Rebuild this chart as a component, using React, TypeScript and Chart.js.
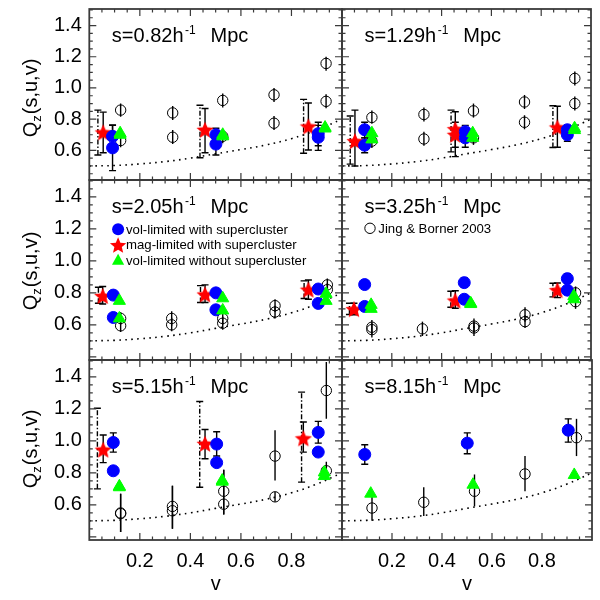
import React, { useEffect, useRef } from 'react';
import { Chart, registerables } from 'chart.js';

Chart.register(...registerables);

const FONT = '"Liberation Sans", Arial, Helvetica, sans-serif';
const FRAME = '#3a3a3a';

// ---- data ----
const xTickValues = [0.2, 0.4, 0.6, 0.8];
const yTickValues = [0.6, 0.8, 1.0, 1.2, 1.4];

// dotted reference curve (same in every panel)
const curveV = [0, 0.1, 0.2, 0.3, 0.4, 0.5, 0.6, 0.7, 0.8, 0.9, 1.0];
const curveQ = [0.5, 0.503, 0.513, 0.528, 0.55, 0.578, 0.605, 0.635, 0.675, 0.73, 0.8];

// blue: [v, Q, lo, hi]   green: [v, Q]   star: [v, Q, lo, hi]   starAlt: [v, lo, hi]   jing: [v, Q, lo, hi]
const blueS082 = [[0.092, 0.69, 0.64, 0.763], [0.092, 0.616, 0.47, 0.76], [0.501, 0.70, 0.66, 0.742], [0.501, 0.64, 0.57, 0.71], [0.906, 0.707, 0.63, 0.78], [0.906, 0.684, 0.60, 0.76]];
const greenS082 = [[0.122, 0.71], [0.122, 0.70], [0.528, 0.69], [0.528, 0.70], [0.933, 0.746], [0.933, 0.74]];
const starS082 = [[0.055, 0.715, 0.585, 0.845], [0.458, 0.732, 0.585, 0.868], [0.867, 0.753, 0.602, 0.904]];
const starAltS082 = [[0.034, 0.57, 0.858], [0.438, 0.553, 0.889], [0.848, 0.581, 0.927]];
const jingS082 = [[0.124, 0.858, 0.815, 0.90], [0.124, 0.663, 0.62, 0.705], [0.33, 0.84, 0.795, 0.885], [0.33, 0.684, 0.64, 0.73], [0.528, 0.92, 0.875, 0.965], [0.528, 0.69, 0.645, 0.735], [0.731, 0.956, 0.91, 1.0], [0.731, 0.774, 0.73, 0.82], [0.937, 1.157, 1.11, 1.2], [0.937, 0.914, 0.87, 0.96]];

const blueS129 = [[0.091, 0.732, 0.68, 0.78], [0.091, 0.633, 0.585, 0.68], [0.495, 0.72, 0.68, 0.76], [0.495, 0.68, 0.62, 0.72], [0.905, 0.732, 0.70, 0.76], [0.905, 0.70, 0.658, 0.74]];
const greenS129 = [[0.12, 0.71], [0.12, 0.67], [0.525, 0.71], [0.525, 0.68], [0.934, 0.742], [0.934, 0.73]];
const starS129 = [[0.052, 0.659, 0.50, 0.858], [0.455, 0.736, 0.56, 0.847], [0.455, 0.70, 0.62, 0.78], [0.865, 0.747, 0.62, 0.883]];
const starAltS129 = [[0.033, 0.512, 0.82], [0.438, 0.59, 0.858], [0.847, 0.618, 0.886]];
const jingS129 = [[0.12, 0.811, 0.77, 0.855], [0.12, 0.659, 0.615, 0.705], [0.329, 0.83, 0.785, 0.875], [0.329, 0.673, 0.63, 0.72], [0.528, 0.853, 0.81, 0.9], [0.528, 0.68, 0.635, 0.725], [0.733, 0.91, 0.865, 0.955], [0.733, 0.78, 0.735, 0.825], [0.935, 1.061, 1.015, 1.105], [0.935, 0.90, 0.855, 0.945]];

const blueS205 = [[0.095, 0.786, 0.77, 0.80], [0.095, 0.646, 0.63, 0.66], [0.501, 0.80, 0.785, 0.815], [0.501, 0.694, 0.68, 0.71], [0.906, 0.824, 0.81, 0.84], [0.906, 0.734, 0.72, 0.75]];
const greenS205 = [[0.119, 0.75], [0.119, 0.64], [0.528, 0.766], [0.528, 0.69], [0.937, 0.794], [0.937, 0.75]];
const starS205 = [[0.053, 0.78, 0.73, 0.84], [0.458, 0.79, 0.74, 0.85], [0.867, 0.82, 0.76, 0.88]];
const starAltS205 = [[0.036, 0.735, 0.835], [0.44, 0.74, 0.845], [0.85, 0.765, 0.875]];
const jingS205 = [[0.124, 0.64, 0.60, 0.68], [0.124, 0.594, 0.555, 0.635], [0.326, 0.64, 0.595, 0.685], [0.326, 0.60, 0.56, 0.645], [0.528, 0.64, 0.60, 0.68], [0.528, 0.61, 0.57, 0.65], [0.735, 0.72, 0.68, 0.76], [0.735, 0.68, 0.64, 0.72], [0.942, 0.85, 0.81, 0.89], [0.942, 0.82, 0.78, 0.86]];

const blueS325 = [[0.091, 0.852, 0.835, 0.87], [0.091, 0.715, 0.70, 0.73], [0.491, 0.864, 0.835, 0.893], [0.491, 0.76, 0.745, 0.775], [0.905, 0.889, 0.86, 0.92], [0.905, 0.817, 0.80, 0.835]];
const greenS325 = [[0.117, 0.725], [0.117, 0.70], [0.517, 0.735], [0.517, 0.73], [0.931, 0.78], [0.931, 0.76]];
const starS325 = [[0.048, 0.698, 0.663, 0.735], [0.455, 0.752, 0.704, 0.813], [0.865, 0.817, 0.77, 0.862]];
const starAltS325 = [[0.03, 0.665, 0.735], [0.437, 0.71, 0.81], [0.847, 0.775, 0.86]];
const jingS325 = [[0.12, 0.585, 0.54, 0.63], [0.12, 0.57, 0.52, 0.61], [0.323, 0.575, 0.53, 0.62], [0.53, 0.592, 0.55, 0.64], [0.53, 0.58, 0.53, 0.62], [0.735, 0.663, 0.62, 0.71], [0.735, 0.62, 0.58, 0.66], [0.938, 0.80, 0.76, 0.84], [0.938, 0.745, 0.70, 0.79]];

const blueS515 = [[0.095, 0.99, 0.93, 1.05], [0.095, 0.813, 0.813, 0.813], [0.504, 0.98, 0.905, 1.057], [0.504, 0.864, 0.864, 0.864], [0.906, 1.053, 0.986, 1.122], [0.906, 0.93, 0.93, 0.93]];
const greenS515 = [[0.119, 0.716], [0.119, 0.71], [0.526, 0.752], [0.526, 0.745], [0.93, 0.803], [0.93, 0.78]];
const starS515 = [[0.055, 0.945, 0.864, 1.037], [0.458, 0.982, 0.888, 1.071], [0.847, 1.016, 0.93, 1.118]];
const starAltS515 = [[0.032, 0.70, 1.204], [0.437, 0.71, 1.246], [0.84, 0.742, 1.305]];
const jingS515 = [[0.124, 0.549, 0.43, 0.67], [0.124, 0.545, 0.43, 0.67], [0.329, 0.59, 0.45, 0.72], [0.329, 0.563, 0.45, 0.72], [0.532, 0.685, 0.54, 0.82], [0.532, 0.604, 0.54, 0.82], [0.735, 0.905, 0.752, 1.067], [0.735, 0.65, 0.62, 0.68], [0.938, 1.315, 1.138, 1.494], [0.938, 0.813, 0.76, 0.87]];

const blueS815 = [[0.091, 0.915, 0.854, 0.976], [0.501, 0.986, 0.92, 1.05], [0.905, 1.067, 0.992, 1.138]];
const greenS815 = [[0.115, 0.67], [0.524, 0.726], [0.929, 0.787]];
const starS815: number[][] = [];
const starAltS815: number[][] = [];
const jingS815 = [[0.12, 0.58, 0.50, 0.66], [0.327, 0.616, 0.53, 0.71], [0.53, 0.685, 0.59, 0.79], [0.732, 0.793, 0.685, 0.905], [0.938, 1.02, 0.905, 1.138]];

const PANELS = [
  { label: '0.82', blue: blueS082, green: greenS082, star: starS082, starAlt: starAltS082, jing: jingS082, legend: '' },
  { label: '1.29', blue: blueS129, green: greenS129, star: starS129, starAlt: starAltS129, jing: jingS129, legend: '' },
  { label: '2.05', blue: blueS205, green: greenS205, star: starS205, starAlt: starAltS205, jing: jingS205, legend: 'samples' },
  { label: '3.25', blue: blueS325, green: greenS325, star: starS325, starAlt: starAltS325, jing: jingS325, legend: 'jing' },
  { label: '5.15', blue: blueS515, green: greenS515, star: starS515, starAlt: starAltS515, jing: jingS515, legend: '' },
  { label: '8.15', blue: blueS815, green: greenS815, star: starS815, starAlt: starAltS815, jing: jingS815, legend: '' },
];

// ---- layout ----
const COLS = [[89.3, 342], [342, 594]];
const ROWS = [[5.5, 180], [180, 360], [360, 540]];
const Y_MIN = [0.41, 0.38, 0.38];
const Y_MAX = 1.506;
const Y_TITLE_CENTER = [98, 271, 449];

function starPath(ctx: CanvasRenderingContext2D, cx: number, cy: number, ro: number, ri: number) {
  ctx.beginPath();
  for (let i = 0; i < 10; i++) {
    const a = -Math.PI / 2 + (i * Math.PI) / 5;
    const r = i % 2 === 0 ? ro : ri;
    const x = cx + r * Math.cos(a);
    const y = cy + r * Math.sin(a);
    if (i === 0) ctx.moveTo(x, y);
    else ctx.lineTo(x, y);
  }
  ctx.closePath();
}

function makeStar(r: number, color: string) {
  const size = Math.ceil(r * 2 + 2);
  const c = document.createElement('canvas');
  c.width = size;
  c.height = size;
  const ctx = c.getContext('2d')!;
  starPath(ctx, size / 2, size / 2 + 0.8, r, r * 0.45);
  ctx.fillStyle = color;
  ctx.fill();
  return c;
}

function makeDecor(p: any, idx: number) {
  const col = idx % 2;
  const row = Math.floor(idx / 2);
  return {
    id: 'panelDecor' + idx,
    beforeDatasetsDraw(chart: any) {
      const { ctx, chartArea: a, scales } = chart;
      const xs = scales.x;
      const ys = scales.y;
      ctx.save();
      ctx.beginPath();
      ctx.rect(a.left, a.top, a.right - a.left, a.bottom - a.top);
      ctx.clip();
      ctx.strokeStyle = '#000';
      ctx.lineWidth = 1.4;
      chart.data.datasets.forEach((ds: any) => {
        if (!ds.errs) return;
        const dash = ds.errDash || [];
        ds.data.forEach((pt: any, i: number) => {
          const e = ds.errs[i];
          if (!e || e[0] === e[1]) return;
          const x = xs.getPixelForValue(pt.x);
          const y1 = ys.getPixelForValue(e[0]);
          const y2 = ys.getPixelForValue(e[1]);
          ctx.setLineDash(dash);
          ctx.beginPath();
          ctx.moveTo(x, y1);
          ctx.lineTo(x, y2);
          ctx.stroke();
          if (ds.errCap) {
            ctx.setLineDash([]);
            ctx.beginPath();
            ctx.moveTo(x - ds.errCap, y1);
            ctx.lineTo(x + ds.errCap, y1);
            ctx.moveTo(x - ds.errCap, y2);
            ctx.lineTo(x + ds.errCap, y2);
            ctx.stroke();
          }
        });
      });
      ctx.restore();
    },
    afterDatasetsDraw(chart: any) {
      const { ctx, chartArea: a, scales } = chart;
      const xs = scales.x;
      const ys = scales.y;
      ctx.save();
      // inward ticks
      ctx.strokeStyle = FRAME;
      ctx.lineWidth = 1.2;
      ctx.setLineDash([]);
      for (let k = 1; k < 20; k++) {
        const len = k % 4 === 0 ? 7 : 3.5;
        const px = xs.getPixelForValue(k * 0.05);
        ctx.beginPath();
        ctx.moveTo(px, a.bottom);
        ctx.lineTo(px, a.bottom - len);
        ctx.moveTo(px, a.top);
        ctx.lineTo(px, a.top + len);
        ctx.stroke();
      }
      for (let k = 0; k <= 40; k++) {
        const v = k * 0.05;
        if (v <= ys.min + 0.001 || v >= ys.max - 0.001) continue;
        const len = k % 4 === 0 ? 7 : 3.5;
        const py = ys.getPixelForValue(v);
        ctx.beginPath();
        ctx.moveTo(a.left, py);
        ctx.lineTo(a.left + len, py);
        ctx.moveTo(a.right, py);
        ctx.lineTo(a.right - len, py);
        ctx.stroke();
      }
      // frame
      ctx.lineWidth = 1.8;
      ctx.strokeRect(a.left, a.top, a.right - a.left, a.bottom - a.top);

      // panel label
      ctx.fillStyle = '#000';
      ctx.textBaseline = 'alphabetic';
      ctx.textAlign = 'left';
      const x0 = a.left + 22.5;
      const base = a.top + 33;
      ctx.font = '20px ' + FONT;
      const main = 's=' + p.label + 'h';
      const wMain = ctx.measureText(main).width;
      ctx.fillText(main, x0, base);
      ctx.fillText('Mpc', x0 + wMain + 27, base);
      ctx.font = '12px ' + FONT;
      ctx.fillText('-1', x0 + wMain + 1.5, base - 8);

      // legends
      if (p.legend === 'samples') {
        const items = [
          { dy: 49.3, kind: 'circle', text: 'vol-limited with supercluster' },
          { dy: 65, kind: 'star', text: 'mag-limited with supercluster' },
          { dy: 80.7, kind: 'triangle', text: 'vol-limited without supercluster' },
        ];
        items.forEach((it) => {
          const mx = a.left + 28.8;
          const my = a.top + it.dy;
          if (it.kind === 'circle') {
            ctx.fillStyle = '#0000ff';
            ctx.beginPath();
            ctx.arc(mx, my, 6, 0, Math.PI * 2);
            ctx.fill();
          } else if (it.kind === 'star') {
            ctx.fillStyle = '#ff0000';
            starPath(ctx, mx, my + 0.8, 8.6, 3.9);
            ctx.fill();
          } else {
            ctx.fillStyle = '#00ff00';
            ctx.beginPath();
            ctx.moveTo(mx, my - 7);
            ctx.lineTo(mx + 6.1, my + 4);
            ctx.lineTo(mx - 6.1, my + 4);
            ctx.closePath();
            ctx.fill();
          }
          ctx.fillStyle = '#000';
          ctx.font = '13.2px ' + FONT;
          ctx.fillText(it.text, a.left + 36.7, my + 4.3);
        });
      } else if (p.legend === 'jing') {
        const mx = a.left + 28;
        const my = a.top + 48.3;
        ctx.strokeStyle = '#000';
        ctx.lineWidth = 1;
        ctx.beginPath();
        ctx.arc(mx, my, 5.2, 0, Math.PI * 2);
        ctx.stroke();
        ctx.fillStyle = '#000';
        ctx.font = '13.2px ' + FONT;
        ctx.fillText('Jing & Borner 2003', a.left + 36.3, my + 4.3);
      }

      // y title with subscript
      if (col === 0) {
        ctx.save();
        ctx.translate(37, Y_TITLE_CENTER[row]);
        ctx.rotate(-Math.PI / 2);
        ctx.fillStyle = '#000';
        ctx.font = '20px ' + FONT;
        const wQ = ctx.measureText('Q').width;
        const wR = ctx.measureText('(s,u,v)').width;
        ctx.font = '13px ' + FONT;
        const wz = ctx.measureText('z').width;
        const total = wQ + wz + 1 + wR;
        const sx = -total / 2;
        ctx.font = '20px ' + FONT;
        ctx.fillText('Q', sx, 0);
        ctx.fillText('(s,u,v)', sx + wQ + wz + 1, 0);
        ctx.font = '13px ' + FONT;
        ctx.fillText('z', sx + wQ, 4);
        ctx.restore();
      }
      ctx.restore();
    },
  };
}

function buildConfig(p: any, idx: number, star: HTMLCanvasElement) {
  const col = idx % 2;
  const row = Math.floor(idx / 2);
  const isLeft = col === 0;
  const isBottom = row === 2;
  const [L, R] = COLS[col];
  const [T, B] = ROWS[row];

  const datasets: any[] = [
    {
      label: 'vol-limited without supercluster',
      data: p.green.map((d: number[]) => ({ x: d[0], y: d[1] })),
      pointStyle: 'triangle',
      pointRadius: 7,
      backgroundColor: '#00ff00',
      borderColor: '#00ff00',
      borderWidth: 1,
    },
    {
      label: 'vol-limited with supercluster',
      data: p.blue.map((d: number[]) => ({ x: d[0], y: d[1] })),
      errs: p.blue.map((d: number[]) => [d[2], d[3]]),
      errCap: 3.5,
      pointStyle: 'circle',
      pointRadius: 6,
      backgroundColor: '#0000ff',
      borderColor: '#0000ff',
      borderWidth: 1,
    },
    {
      label: 'mag-limited with supercluster',
      data: p.star.map((d: number[]) => ({ x: d[0], y: d[1] })),
      errs: p.star.map((d: number[]) => [d[2], d[3]]),
      errCap: 3.5,
      pointStyle: star,
      pointRadius: 8,
    },
    {
      label: 'Jing & Borner 2003',
      data: p.jing.map((d: number[]) => ({ x: d[0], y: d[1] })),
      errs: p.jing.map((d: number[]) => [d[2], d[3]]),
      pointStyle: 'circle',
      pointRadius: 5.2,
      backgroundColor: 'rgba(0,0,0,0)',
      borderColor: '#000',
      borderWidth: 1,
    },
    {
      label: 'mag-limited alt errors',
      data: p.starAlt.map((d: number[]) => ({ x: d[0], y: d[1] })),
      errs: p.starAlt.map((d: number[]) => [d[1], d[2]]),
      errCap: 3.5,
      errDash: [5, 2, 1.5, 2],
      pointRadius: 0,
      showLine: false,
    },
    {
      type: 'line',
      label: 'curve',
      data: curveV.map((v, i) => ({ x: v, y: curveQ[i] })),
      showLine: true,
      borderColor: '#000',
      borderWidth: 1.6,
      borderDash: [1.6, 4.4],
      pointRadius: 0,
      tension: 0.4,
      fill: false,
    },
  ];

  return {
    type: 'scatter',
    data: { datasets },
    options: {
      animation: false,
      responsive: false,
      maintainAspectRatio: false,
      events: [],
      layout: {
        padding: {
          left: isLeft ? 0 : L,
          right: 600 - R,
          top: T,
          bottom: isBottom ? 0 : 600 - B,
        },
      },
      plugins: { legend: { display: false }, tooltip: { enabled: false } },
      scales: {
        x: {
          type: 'linear',
          min: 0,
          max: 1,
          display: isBottom,
          grid: { display: false, drawTicks: false },
          border: { display: false },
          afterBuildTicks: (s: any) => {
            s.ticks = xTickValues.map((v) => ({ value: v }));
          },
          afterFit: (s: any) => {
            s.height = isBottom ? 60 : 0;
            s.paddingLeft = 0;
            s.paddingRight = 0;
          },
          ticks: {
            font: { size: 20, family: FONT },
            color: '#000',
            padding: 9,
            maxRotation: 0,
            autoSkip: false,
            callback: (v: any) => Number(v).toFixed(1),
          },
          title: {
            display: true,
            text: 'v',
            color: '#000',
            font: { size: 20, family: FONT },
            padding: { top: 4, bottom: 4 },
          },
        },
        y: {
          type: 'linear',
          position: 'left',
          min: Y_MIN[row],
          max: Y_MAX,
          display: isLeft,
          grid: { display: false, drawTicks: false },
          border: { display: false },
          afterBuildTicks: (s: any) => {
            s.ticks = yTickValues.map((v) => ({ value: v }));
          },
          afterFit: (s: any) => {
            s.width = isLeft ? L : 0;
            s.paddingTop = 0;
            s.paddingBottom = 0;
          },
          ticks: {
            font: { size: 20, family: FONT },
            color: '#000',
            padding: 7.5,
            autoSkip: false,
            callback: (v: any) => Number(v).toFixed(1),
          },
        },
      },
    },
    plugins: [makeDecor(p, idx)],
  };
}

export default function App() {
  const refs = useRef<(HTMLCanvasElement | null)[]>([]);

  useEffect(() => {
    const star = makeStar(9, '#ff0000');
    const charts = PANELS.map((p, i) => new Chart(refs.current[i] as HTMLCanvasElement, buildConfig(p, i, star) as any));
    return () => {
      charts.forEach((c) => c.destroy());
    };
  }, []);

  return (
    <div style={{ position: 'fixed', left: 0, top: 0, width: 600, height: 600, background: '#fff' }}>
      {PANELS.map((p, i) => (
        <canvas
          key={i}
          ref={(el) => {
            refs.current[i] = el;
          }}
          width={600}
          height={600}
          style={{ position: 'absolute', left: 0, top: 0, width: 600, height: 600 }}
        />
      ))}
    </div>
  );
}
